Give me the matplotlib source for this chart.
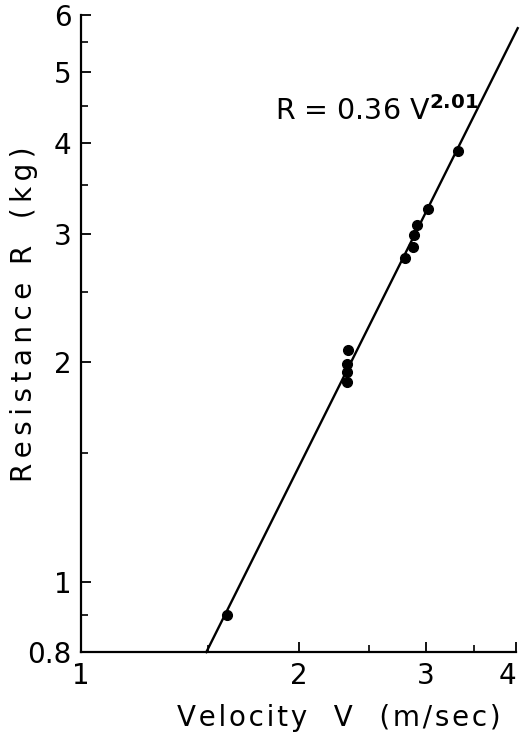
import numpy as np
import matplotlib
matplotlib.use('Agg')
import matplotlib.pyplot as plt
import matplotlib.transforms as mtransforms
from matplotlib.ticker import FixedLocator, NullFormatter

# Measured points: velocity (m/sec) and resistance (kg)
velocity = [1.59, 2.34, 2.33, 2.33, 2.33, 2.81, 2.88, 2.89, 2.92, 3.02, 3.32]
resistance = [0.90, 2.08, 1.99, 1.94, 1.88, 2.78, 2.88, 2.99, 3.09, 3.25, 3.90]

# Fitted power law R = 0.36 V^2.01, ends of the drawn line
fit_v = [1.49, 4.02]
fit_r = [0.80, 5.75]

x_major = [1, 2, 3, 4]
x_minor = [1.5, 2.5, 3.5]
y_major = [0.8, 1, 2, 3, 4, 5, 6]
y_labels = ['0.8', '1', '2', '3', '4', '5', '6']
y_minor = [0.9, 1.5, 2.5, 3.5, 4.5, 5.5]

plt.rcParams['font.family'] = 'DejaVu Sans'


def spaced(word, gap):
    # widen the lettering a little, like the hand-lettered original
    return gap.join(word)


fig = plt.figure(figsize=(5.24, 7.36), dpi=100)
ax = fig.add_axes([0.155, 0.114, 0.830, 0.866])

ax.plot(fit_v, fit_r, color='black', linewidth=1.7, clip_on=False)
ax.plot(velocity, resistance, 'o', color='black', markersize=7)

ax.set_xscale('log')
ax.set_yscale('log')
ax.set_xlim(1, 4)
ax.set_ylim(0.8, 6)

ax.xaxis.set_major_locator(FixedLocator(x_major))
ax.xaxis.set_minor_locator(FixedLocator(x_minor))
ax.set_xticklabels([str(v) for v in x_major])
ax.xaxis.set_minor_formatter(NullFormatter())
ax.yaxis.set_major_locator(FixedLocator(y_major))
ax.yaxis.set_minor_locator(FixedLocator(y_minor))
ax.set_yticklabels(y_labels)
ax.yaxis.set_minor_formatter(NullFormatter())

for side in ['top', 'right']:
    ax.spines[side].set_visible(False)
for side in ['left', 'bottom']:
    ax.spines[side].set_linewidth(1.6)

ax.tick_params(which='major', direction='in', length=7, width=1.3,
               labelsize=20, pad=7)
ax.tick_params(which='minor', direction='in', length=5, width=1.2)

# nudge the last x label so it stays inside the figure
last = ax.get_xticklabels()[-1]
last.set_transform(last.get_transform() +
                   mtransforms.ScaledTranslation(-6 / 72, 0, fig.dpi_scale_trans))

ax.text(1.855, 4.30, r'R = 0.36 V$^{\mathbf{2.01}}$', fontsize=20.5,
        va='baseline', ha='left')

hair = '\u200a'
thin = '\u2009'
xlab = spaced('Velocity', hair) + '   V   ' + spaced('(m/sec)', hair)
ylab = spaced('Resistance', thin) + '  R   ' + spaced('(kg)', thin)
ax.set_xlabel(xlab, fontsize=20)
ax.xaxis.set_label_coords(0.592, -0.082)
ax.set_ylabel(ylab, fontsize=20)
ax.yaxis.set_label_coords(-0.10, 0.53)

plt.savefig('out.png', dpi=100)
plt.close()
